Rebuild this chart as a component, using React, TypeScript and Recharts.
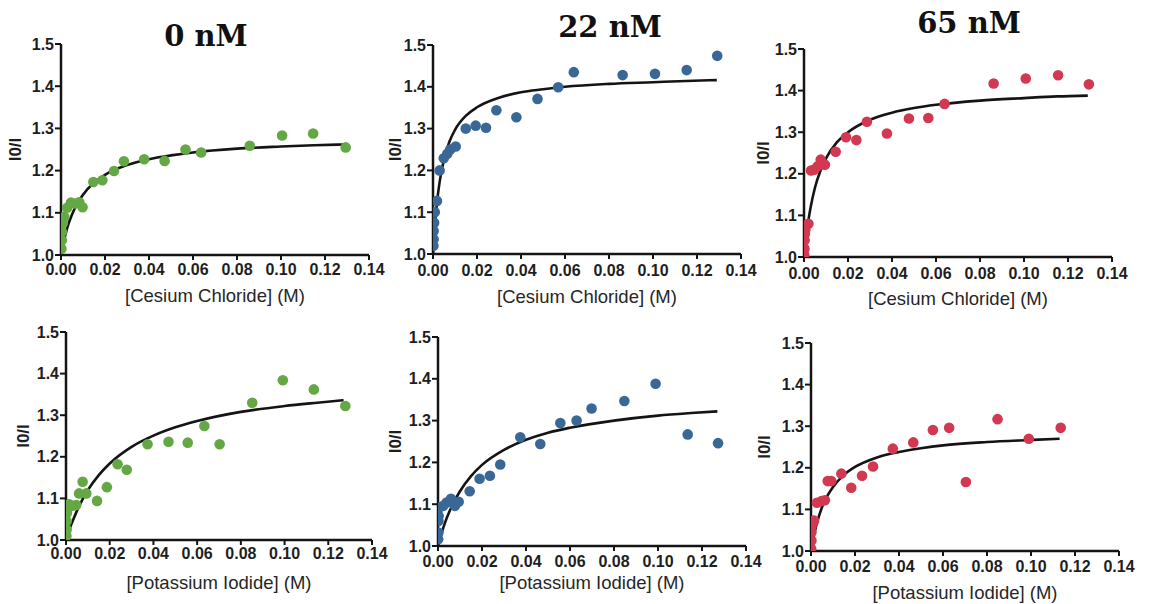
import React from "react";
import { ComposedChart, Label, Line, Scatter, XAxis, YAxis } from "recharts";

// axis ticks shared by all six panels
const concTicks = [0, 0.02, 0.04, 0.06, 0.08, 0.1, 0.12, 0.14];
const ratioTicks = [1.0, 1.1, 1.2, 1.3, 1.4, 1.5];

// CsCl, 0 nM
const cs0Conc = [0.0002, 0.0004, 0.0004, 0.0008, 0.0015, 0.0028, 0.0045, 0.0064, 0.0083, 0.0098, 0.0147, 0.0188, 0.0241, 0.0286, 0.0378, 0.0471, 0.0566, 0.0637, 0.0858, 0.1005, 0.1146, 0.1294];
const cs0Ratio = [1.015, 1.035, 1.055, 1.075, 1.09, 1.112, 1.124, 1.122, 1.125, 1.113, 1.173, 1.177, 1.199, 1.222, 1.227, 1.223, 1.25, 1.243, 1.259, 1.283, 1.288, 1.255];

// CsCl, 22 nM
const cs22Conc = [0.0002, 0.0003, 0.0003, 0.0005, 0.0008, 0.0018, 0.003, 0.0049, 0.0065, 0.0078, 0.0103, 0.0149, 0.0194, 0.0241, 0.0288, 0.0379, 0.0475, 0.0569, 0.064, 0.0862, 0.1009, 0.1153, 0.1292];
const cs22Ratio = [1.02, 1.035, 1.055, 1.075, 1.1, 1.127, 1.2, 1.229, 1.24, 1.25, 1.257, 1.3, 1.307, 1.302, 1.344, 1.327, 1.371, 1.399, 1.435, 1.428, 1.431, 1.44, 1.474];

// CsCl, 65 nM
const cs65Conc = [0.0001, 0.0002, 0.0003, 0.0004, 0.0006, 0.002, 0.0032, 0.0046, 0.0062, 0.0076, 0.0095, 0.0144, 0.0191, 0.0238, 0.0286, 0.0377, 0.0477, 0.0565, 0.0639, 0.0862, 0.1008, 0.1155, 0.1295];
const cs65Ratio = [1.005, 1.02, 1.04, 1.055, 1.065, 1.08, 1.208, 1.21, 1.218, 1.234, 1.222, 1.253, 1.288, 1.281, 1.325, 1.297, 1.333, 1.334, 1.368, 1.417, 1.429, 1.437, 1.415];

// KI, 0 nM
const ki0Conc = [0.0002, 0.0003, 0.0003, 0.0004, 0.0015, 0.0027, 0.0047, 0.006, 0.0076, 0.0093, 0.0142, 0.0187, 0.0236, 0.0278, 0.0373, 0.0469, 0.0557, 0.0633, 0.0703, 0.0852, 0.0992, 0.1134, 0.1278];
const ki0Ratio = [1.01, 1.025, 1.045, 1.065, 1.086, 1.082, 1.084, 1.112, 1.14, 1.112, 1.094, 1.127, 1.182, 1.169, 1.23, 1.236, 1.234, 1.274, 1.23, 1.33, 1.384, 1.362, 1.322];

// KI, 22 nM
const ki22Conc = [0.0001, 0.0002, 0.0002, 0.0003, 0.0005, 0.0024, 0.0039, 0.0059, 0.0077, 0.0094, 0.0144, 0.0189, 0.0236, 0.0283, 0.0374, 0.0465, 0.0556, 0.063, 0.0698, 0.0847, 0.0989, 0.1135, 0.1273];
const ki22Ratio = [1.016, 1.032, 1.06, 1.072, 1.092, 1.096, 1.104, 1.113, 1.096, 1.106, 1.131, 1.161, 1.168, 1.195, 1.26, 1.244, 1.294, 1.3, 1.329, 1.347, 1.388, 1.267, 1.246];

// KI, 65 nM
const ki65Conc = [0.0001, 0.0002, 0.0002, 0.0003, 0.0014, 0.0027, 0.0048, 0.0063, 0.0076, 0.0092, 0.0138, 0.0183, 0.0232, 0.0282, 0.0372, 0.0465, 0.0554, 0.0628, 0.0704, 0.0848, 0.099, 0.1135];
const ki65Ratio = [1.005, 1.025, 1.045, 1.06, 1.073, 1.116, 1.12, 1.122, 1.168, 1.168, 1.186, 1.152, 1.181, 1.203, 1.246, 1.261, 1.291, 1.296, 1.166, 1.317, 1.27, 1.296];

// fitted curves
const fitConcCs = [0, 0.001, 0.002, 0.003, 0.005, 0.0075, 0.01, 0.015, 0.02, 0.03, 0.04, 0.05, 0.06, 0.08, 0.1, 0.115, 0.129];
const fitConcKi = [0, 0.001, 0.002, 0.003, 0.005, 0.0075, 0.01, 0.015, 0.02, 0.03, 0.04, 0.05, 0.06, 0.08, 0.1, 0.115, 0.127];
const fitConcKi65 = [0, 0.001, 0.002, 0.003, 0.005, 0.0075, 0.01, 0.015, 0.02, 0.03, 0.04, 0.05, 0.06, 0.08, 0.1, 0.113];
const cs0Fit = [1.0, 1.026, 1.048, 1.067, 1.096, 1.123, 1.143, 1.171, 1.19, 1.213, 1.227, 1.236, 1.243, 1.252, 1.257, 1.26, 1.262];
const cs22Fit = [1.0, 1.078, 1.132, 1.172, 1.226, 1.269, 1.297, 1.331, 1.351, 1.374, 1.387, 1.394, 1.4, 1.407, 1.411, 1.414, 1.416];
const cs65Fit = [1.0, 1.049, 1.088, 1.119, 1.167, 1.208, 1.237, 1.276, 1.3, 1.33, 1.347, 1.358, 1.366, 1.376, 1.382, 1.386, 1.388];
const ki0Fit = [1.0, 1.016, 1.032, 1.045, 1.07, 1.097, 1.12, 1.156, 1.184, 1.224, 1.251, 1.271, 1.286, 1.308, 1.322, 1.33, 1.336];
const ki22Fit = [1.0, 1.019, 1.037, 1.053, 1.08, 1.108, 1.131, 1.167, 1.194, 1.23, 1.254, 1.271, 1.283, 1.3, 1.312, 1.318, 1.322];
const ki65Fit = [1.0, 1.029, 1.053, 1.073, 1.105, 1.133, 1.154, 1.183, 1.202, 1.225, 1.238, 1.247, 1.254, 1.262, 1.267, 1.27];

const GREEN = "#64a846";
const BLUE = "#3a6896";
const RED = "#d2384f";
const INK = "#141414";

const SANS = "'Liberation Sans', Arial, sans-serif";

interface PanelProps {
  // plot box in page pixels
  x0: number;
  y0: number;
  x1: number;
  y1: number;
  tickGap: number;
  labelDrop: number;
  yLabelGap: number;
  conc: number[];
  ratio: number[];
  fitConc: number[];
  fit: number[];
  color: string;
  xLabel: string;
}

const Y_AXIS_W = 60;
const TOP = 10;
const RIGHT = 24;
const BOTTOM = 10;

function Panel(p: PanelProps) {
  const points = p.conc.map((x, i) => ({ x, y: p.ratio[i] }));
  const curve = p.fitConc.map((x, i) => ({ x, y: p.fit[i] }));
  const plotW = p.x1 - p.x0;
  const plotH = p.y1 - p.y0;
  // label baseline sits ~6px under its visual centre
  const xAxisH = p.labelDrop + 6;

  return (
    <div style={{ position: "absolute", left: p.x0 - Y_AXIS_W, top: p.y0 - TOP }}>
      <ComposedChart
        width={plotW + Y_AXIS_W + RIGHT}
        height={plotH + TOP + xAxisH + BOTTOM}
        margin={{ top: TOP, right: RIGHT, left: 0, bottom: BOTTOM }}
      >
        <XAxis
          type="number"
          dataKey="x"
          domain={[0, 0.14]}
          ticks={concTicks}
          interval={0}
          allowDataOverflow
          tickFormatter={(v: number) => v.toFixed(2)}
          height={xAxisH}
          axisLine={{ stroke: INK, strokeWidth: 2.5 }}
          tickLine={{ stroke: INK, strokeWidth: 2 }}
          tickSize={5}
          tickMargin={p.tickGap}
          tick={{ fontFamily: SANS, fontWeight: 700, fontSize: 16, fill: "#1e1e1e" }}
        >
          <Label
            value={p.xLabel}
            position="insideBottom"
            offset={0}
            style={{ fontFamily: SANS, fontSize: 18.5, fill: "#262626" }}
          />
        </XAxis>
        <YAxis
          type="number"
          dataKey="y"
          domain={[1.0, 1.5]}
          ticks={ratioTicks}
          interval={0}
          allowDataOverflow
          tickFormatter={(v: number) => v.toFixed(1)}
          width={Y_AXIS_W}
          axisLine={{ stroke: INK, strokeWidth: 2.5 }}
          tickLine={{ stroke: INK, strokeWidth: 2 }}
          tickSize={6}
          tickMargin={1}
          tick={{ fontFamily: SANS, fontWeight: 700, fontSize: 16, fill: "#1e1e1e" }}
        >
          <Label
            value="I0/I"
            angle={-90}
            position="insideLeft"
            offset={Y_AXIS_W - p.yLabelGap}
            style={{
              fontFamily: SANS,
              fontWeight: 700,
              fontSize: 17,
              fill: "#1e1e1e",
              textAnchor: "middle",
            }}
          />
        </YAxis>
        <Scatter
          data={points}
          isAnimationActive={false}
          shape={(s: any) => <circle cx={s.cx} cy={s.cy} r={5.3} fill={p.color} />}
        />
        <Line
          data={curve}
          dataKey="y"
          type="monotone"
          dot={false}
          activeDot={false}
          stroke={INK}
          strokeWidth={2.6}
          isAnimationActive={false}
        />
      </ComposedChart>
    </div>
  );
}

const titleStyle: React.CSSProperties = {
  position: "absolute",
  transform: "translate(-50%, -50%)",
  fontFamily: "'DejaVu Serif', 'Liberation Serif', serif",
  fontWeight: 700,
  fontSize: 29,
  lineHeight: 1,
  color: "#111",
  whiteSpace: "nowrap",
};

export default function App() {
  const cs = "[Cesium Chloride] (M)";
  const ki = "[Potassium Iodide] (M)";
  return (
    <div
      style={{
        position: "absolute",
        left: 0,
        top: 0,
        width: 1152,
        height: 604,
        background: "#fff",
        overflow: "hidden",
      }}
    >
      <div style={{ ...titleStyle, left: 206, top: 36 }}>0 nM</div>
      <div style={{ ...titleStyle, left: 610, top: 27 }}>22 nM</div>
      <div style={{ ...titleStyle, left: 969, top: 23 }}>65 nM</div>

      <Panel x0={61} y0={44} x1={369} y1={255} tickGap={3.5} labelDrop={41} yLabelGap={46}
        conc={cs0Conc} ratio={cs0Ratio} fitConc={fitConcCs} fit={cs0Fit} color={GREEN} xLabel={cs} />
      <Panel x0={433} y0={45} x1={741} y1={254} tickGap={6} labelDrop={43} yLabelGap={38}
        conc={cs22Conc} ratio={cs22Ratio} fitConc={fitConcCs} fit={cs22Fit} color={BLUE} xLabel={cs} />
      <Panel x0={804} y0={49} x1={1112} y1={257} tickGap={6} labelDrop={42} yLabelGap={41}
        conc={cs65Conc} ratio={cs65Ratio} fitConc={fitConcCs} fit={cs65Fit} color={RED} xLabel={cs} />

      <Panel x0={66} y0={332} x1={372} y1={540} tickGap={2.5} labelDrop={43} yLabelGap={43}
        conc={ki0Conc} ratio={ki0Ratio} fitConc={fitConcKi} fit={ki0Fit} color={GREEN} xLabel={ki} />
      <Panel x0={438} y0={337} x1={746} y1={546} tickGap={5} labelDrop={37} yLabelGap={43}
        conc={ki22Conc} ratio={ki22Ratio} fitConc={fitConcKi} fit={ki22Fit} color={BLUE} xLabel={ki} />
      <Panel x0={811} y0={343} x1={1119} y1={551} tickGap={5} labelDrop={42} yLabelGap={47}
        conc={ki65Conc} ratio={ki65Ratio} fitConc={fitConcKi65} fit={ki65Fit} color={RED} xLabel={ki} />
    </div>
  );
}
